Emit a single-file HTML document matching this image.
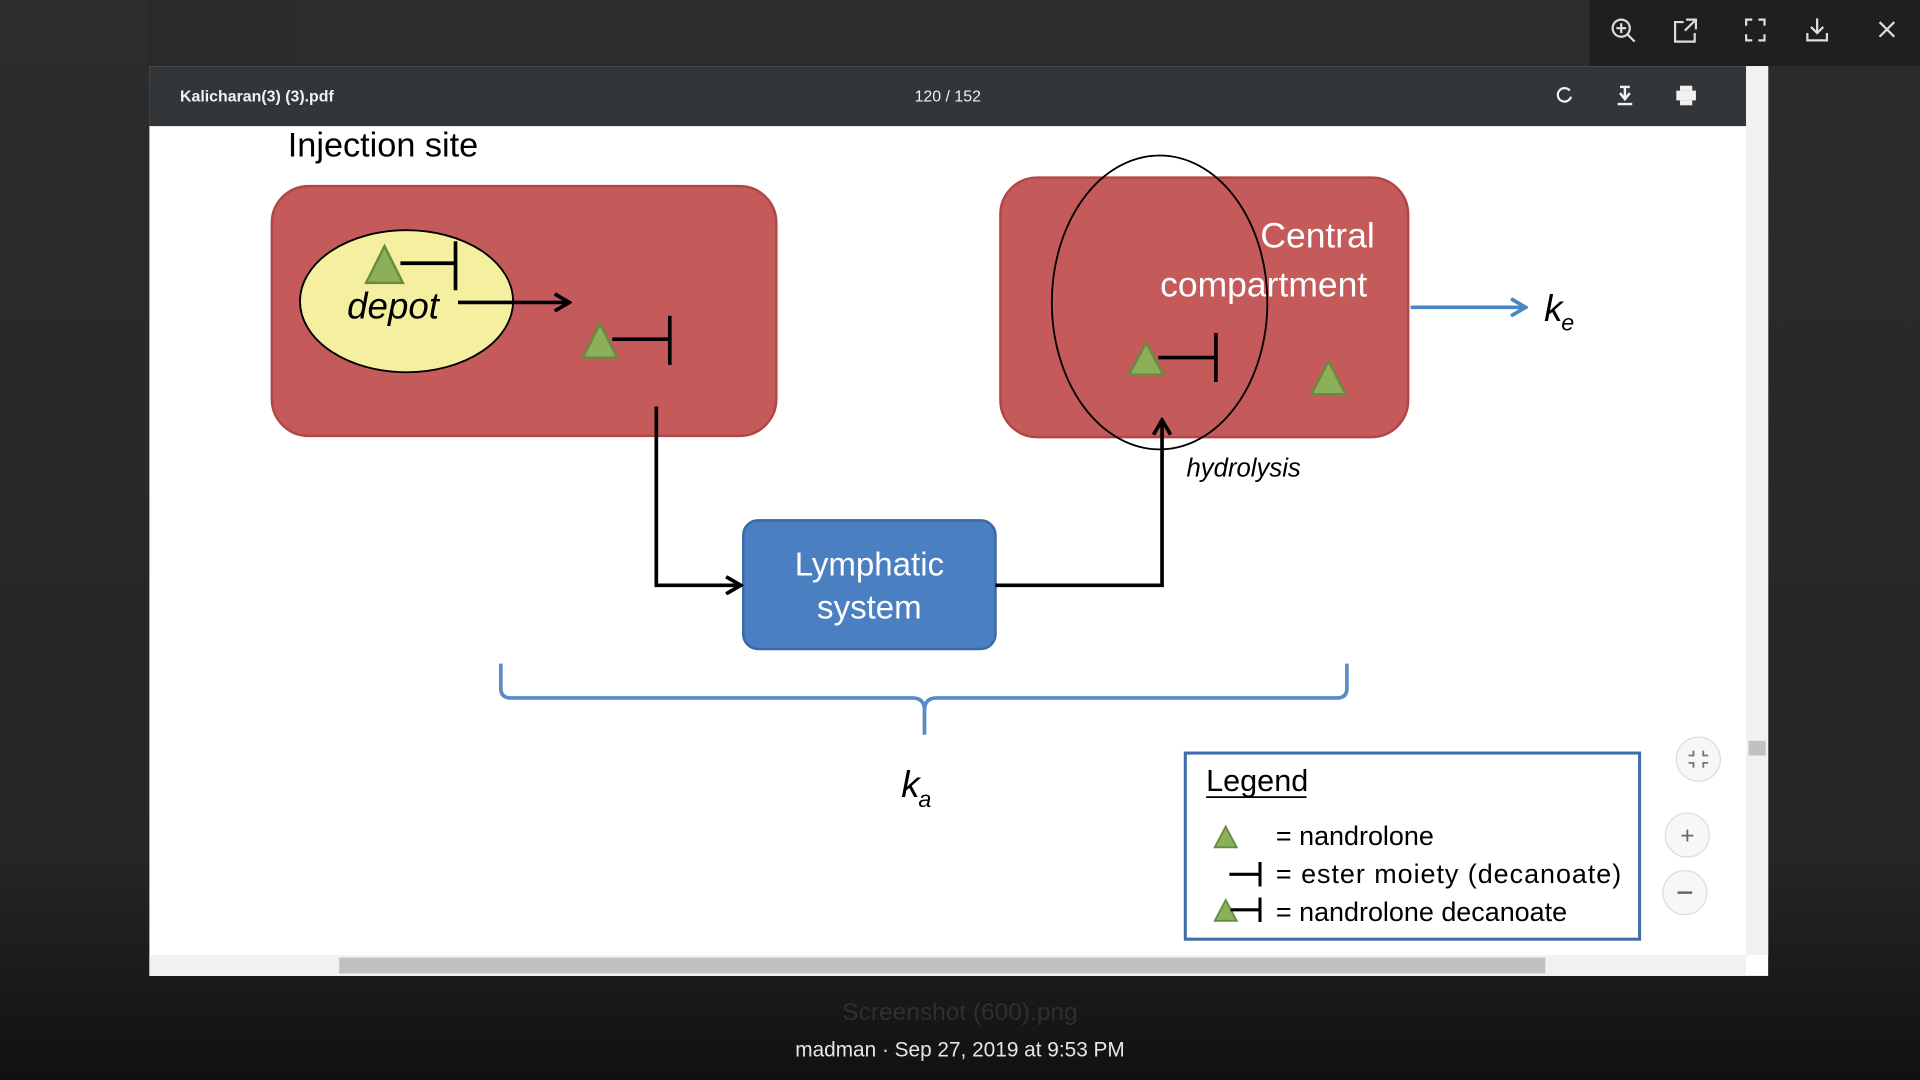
<!DOCTYPE html>
<html><head><meta charset="utf-8"><style>
html,body{margin:0;padding:0;width:1920px;height:1080px;overflow:hidden;background:#222;}
svg{display:block}
text{font-family:"Liberation Sans","DejaVu Sans",sans-serif}
</style></head><body>
<svg width="1920" height="1080" viewBox="0 0 1568 882" xmlns="http://www.w3.org/2000/svg">
<defs>
<linearGradient id="bg" x1="0" y1="0" x2="0" y2="1"><stop offset="0" stop-color="#2c2c2c"/><stop offset="0.8" stop-color="#252525"/><stop offset="1" stop-color="#111"/></linearGradient>
<marker id="ab" markerWidth="16" markerHeight="16" refX="13" refY="8" orient="auto" markerUnits="userSpaceOnUse"><path d="M2,1 L14,8 L2,15" fill="none" stroke="#000" stroke-width="3"/></marker>
<marker id="abl" markerWidth="16" markerHeight="16" refX="14" refY="8" orient="auto" markerUnits="userSpaceOnUse"><path d="M2,1 L14,8 L2,15" fill="none" stroke="#4a86c5" stroke-width="3"/></marker>
</defs>
<rect width="1568" height="882" fill="url(#bg)"/>
<rect x="122" y="0" width="115" height="52" fill="#2a2a2a"/>
<rect x="1298" y="0" width="270" height="54" fill="#1f1f1f"/>
<g stroke="#ddd" stroke-width="1.8" fill="none">
<circle cx="1324" cy="23" r="7"/><line x1="1329" y1="28" x2="1335" y2="34"/><line x1="1320" y1="23" x2="1328" y2="23"/><line x1="1324" y1="19" x2="1324" y2="27"/>
<path d="M1375 18 h-7 v16 h16 v-7"/><path d="M1377 16 h8 v8 M1385 16 l-9 9"/>
<path d="M1426 21 v-5 h5 M1436 16 h5 v5 M1441 28 v5 h-5 M1431 33 h-5 v-5"/>
<path d="M1484 15 v12 M1479 22 l5 5 5-5 M1476 27 v6 h16 v-6"/>
<path d="M1535 18 l12 12 M1547 18 l-12 12"/>
</g>
<rect x="122" y="54" width="1322" height="743" fill="#fff"/>
<rect x="122" y="54" width="1304" height="49" fill="#323639"/>
<text x="147" y="83" font-size="13" font-weight="bold" fill="#f1f1f1">Kalicharan(3) (3).pdf</text>
<text x="774" y="83" font-size="13" fill="#f1f1f1" text-anchor="middle">120 / 152</text>
<g fill="#f1f1f1" stroke="#f1f1f1"><path d="M1282 74 a5.5 5.5 0 1 0 1 5" fill="none" stroke-width="1.8"/><path d="M1323 71 h8 M1327 71 v9 M1323 76 l4 5 4-5 M1321 85 h12" stroke-width="2" fill="none"/><rect x="1369" y="74" width="16" height="8" stroke="none"/><rect x="1372" y="70" width="10" height="4" stroke="none"/><rect x="1372" y="82" width="10" height="4" stroke="none"/></g>
<rect x="1426" y="54" width="18" height="726" fill="#f1f1f1"/>
<rect x="1428" y="605" width="14" height="12" fill="#c1c1c1"/>
<rect x="122" y="780" width="1304" height="17" fill="#f1f1f1"/>
<rect x="277" y="782" width="985" height="13" fill="#c1c1c1"/>
<!-- diagram -->
<text x="235" y="128" font-size="28" fill="#000">Injection site</text>
<rect x="222" y="152" width="412" height="204" rx="30" fill="#c55a5a" stroke="#b24545" stroke-width="2"/>
<ellipse cx="332" cy="246" rx="87" ry="58" fill="#f5f0a0" stroke="#000" stroke-width="1.5"/>
<text x="321" y="260" font-size="30" font-style="italic" text-anchor="middle" fill="#000">depot</text>
<polygon points="314,201 299,231 329,231" fill="#8cb05a" stroke="#6a8a40" stroke-width="2"/>
<path d="M327 215 h45 M372 197 v40" stroke="#000" stroke-width="3"/>
<line x1="374" y1="247" x2="464" y2="247" stroke="#000" stroke-width="3" marker-end="url(#ab)"/>
<polygon points="490,264 476,292 504,292" fill="#8cb05a" stroke="#6a8a40" stroke-width="2"/>
<path d="M500 277 h47 M547 258 v40" stroke="#000" stroke-width="3"/>
<rect x="817" y="145" width="333" height="212" rx="30" fill="#c55a5a" stroke="#b24545" stroke-width="2"/>
<text x="1076" y="202" font-size="29" fill="#fff" text-anchor="middle">Central</text>
<text x="1032" y="242" font-size="29" fill="#fff" text-anchor="middle">compartment</text>
<ellipse cx="947" cy="247" rx="88" ry="120" fill="none" stroke="#000" stroke-width="1.5"/>
<polygon points="936,280 922,306 950,306" fill="#8cb05a" stroke="#6a8a40" stroke-width="2"/>
<path d="M946 292 h47 M993 272 v40" stroke="#000" stroke-width="3"/>
<polygon points="1085,295 1071,322 1099,322" fill="#8cb05a" stroke="#6a8a40" stroke-width="2"/>
<line x1="1152" y1="251" x2="1246" y2="251" stroke="#4a86c5" stroke-width="3" marker-end="url(#abl)"/>
<text x="1261" y="262" font-size="30" font-style="italic" fill="#000">k</text><text x="1275" y="270" font-size="19" font-style="italic" fill="#000">e</text>
<text x="969" y="389" font-size="21" font-style="italic" fill="#000">hydrolysis</text>
<rect x="607" y="425" width="206" height="105" rx="12" fill="#4a7fc1" stroke="#3a6aa5" stroke-width="2"/>
<text x="710" y="470" font-size="27" fill="#fff" text-anchor="middle">Lymphatic</text>
<text x="710" y="505" font-size="27" fill="#fff" text-anchor="middle">system</text>
<path d="M536 332 V478 H604" fill="none" stroke="#000" stroke-width="3" marker-end="url(#ab)"/>
<path d="M813 478 H949 V344" fill="none" stroke="#000" stroke-width="3" marker-end="url(#ab)"/>
<path d="M409 542 V562 Q409 570 417 570 H745 Q755 570 755 580 V600 M755 580 Q755 570 765 570 H1092 Q1100 570 1100 562 V542" fill="none" stroke="#5a8bc8" stroke-width="3"/>
<text x="736" y="651" font-size="30" font-style="italic" fill="#000">k</text><text x="750" y="659" font-size="19" font-style="italic" fill="#000">a</text>
<rect x="968" y="615" width="371" height="152" fill="#fff" stroke="#3f6ea8" stroke-width="2.5"/>
<text x="985" y="646" font-size="25" fill="#000">Legend</text>
<line x1="985" y1="651" x2="1067" y2="651" stroke="#000" stroke-width="1.5"/>
<polygon points="1001,675 992,692 1010,692" fill="#8cb05a" stroke="#6a8a40" stroke-width="1.5"/>
<text x="1042" y="690" font-size="22" fill="#000">= nandrolone</text>
<path d="M1004 714 h25 M1029 704 v20" stroke="#000" stroke-width="2.5"/>
<text x="1042" y="721" font-size="22" fill="#000" textLength="282">= ester moiety (decanoate)</text>
<polygon points="1001,735 992,752 1010,752" fill="#8cb05a" stroke="#6a8a40" stroke-width="1.5"/>
<path d="M1005 743 h24 M1029 733 v20" stroke="#000" stroke-width="2.5"/>
<text x="1042" y="752" font-size="22" fill="#000">= nandrolone decanoate</text>
<g fill="#f7f7f7" stroke="#ddd"><circle cx="1387" cy="620" r="18"/><circle cx="1378" cy="682" r="18"/><circle cx="1376" cy="729" r="18"/></g>
<text x="1378" y="689" font-size="20" fill="#666" text-anchor="middle">+</text>
<line x1="1370" y1="729" x2="1382" y2="729" stroke="#666" stroke-width="2"/>
<path d="M1383 613 v4 h-4 M1391 613 v4 h4 M1383 627 v-4 h-4 M1391 627 v-4 h4" stroke="#777" fill="none" stroke-width="1.5"/>
<text x="784" y="833" font-size="20" fill="#2f2f2f" text-anchor="middle">Screenshot (600).png</text>
<text x="784" y="863" font-size="17" fill="#e6e6e6" text-anchor="middle">madman · Sep 27, 2019 at 9:53 PM</text>
</svg>
</body></html>
